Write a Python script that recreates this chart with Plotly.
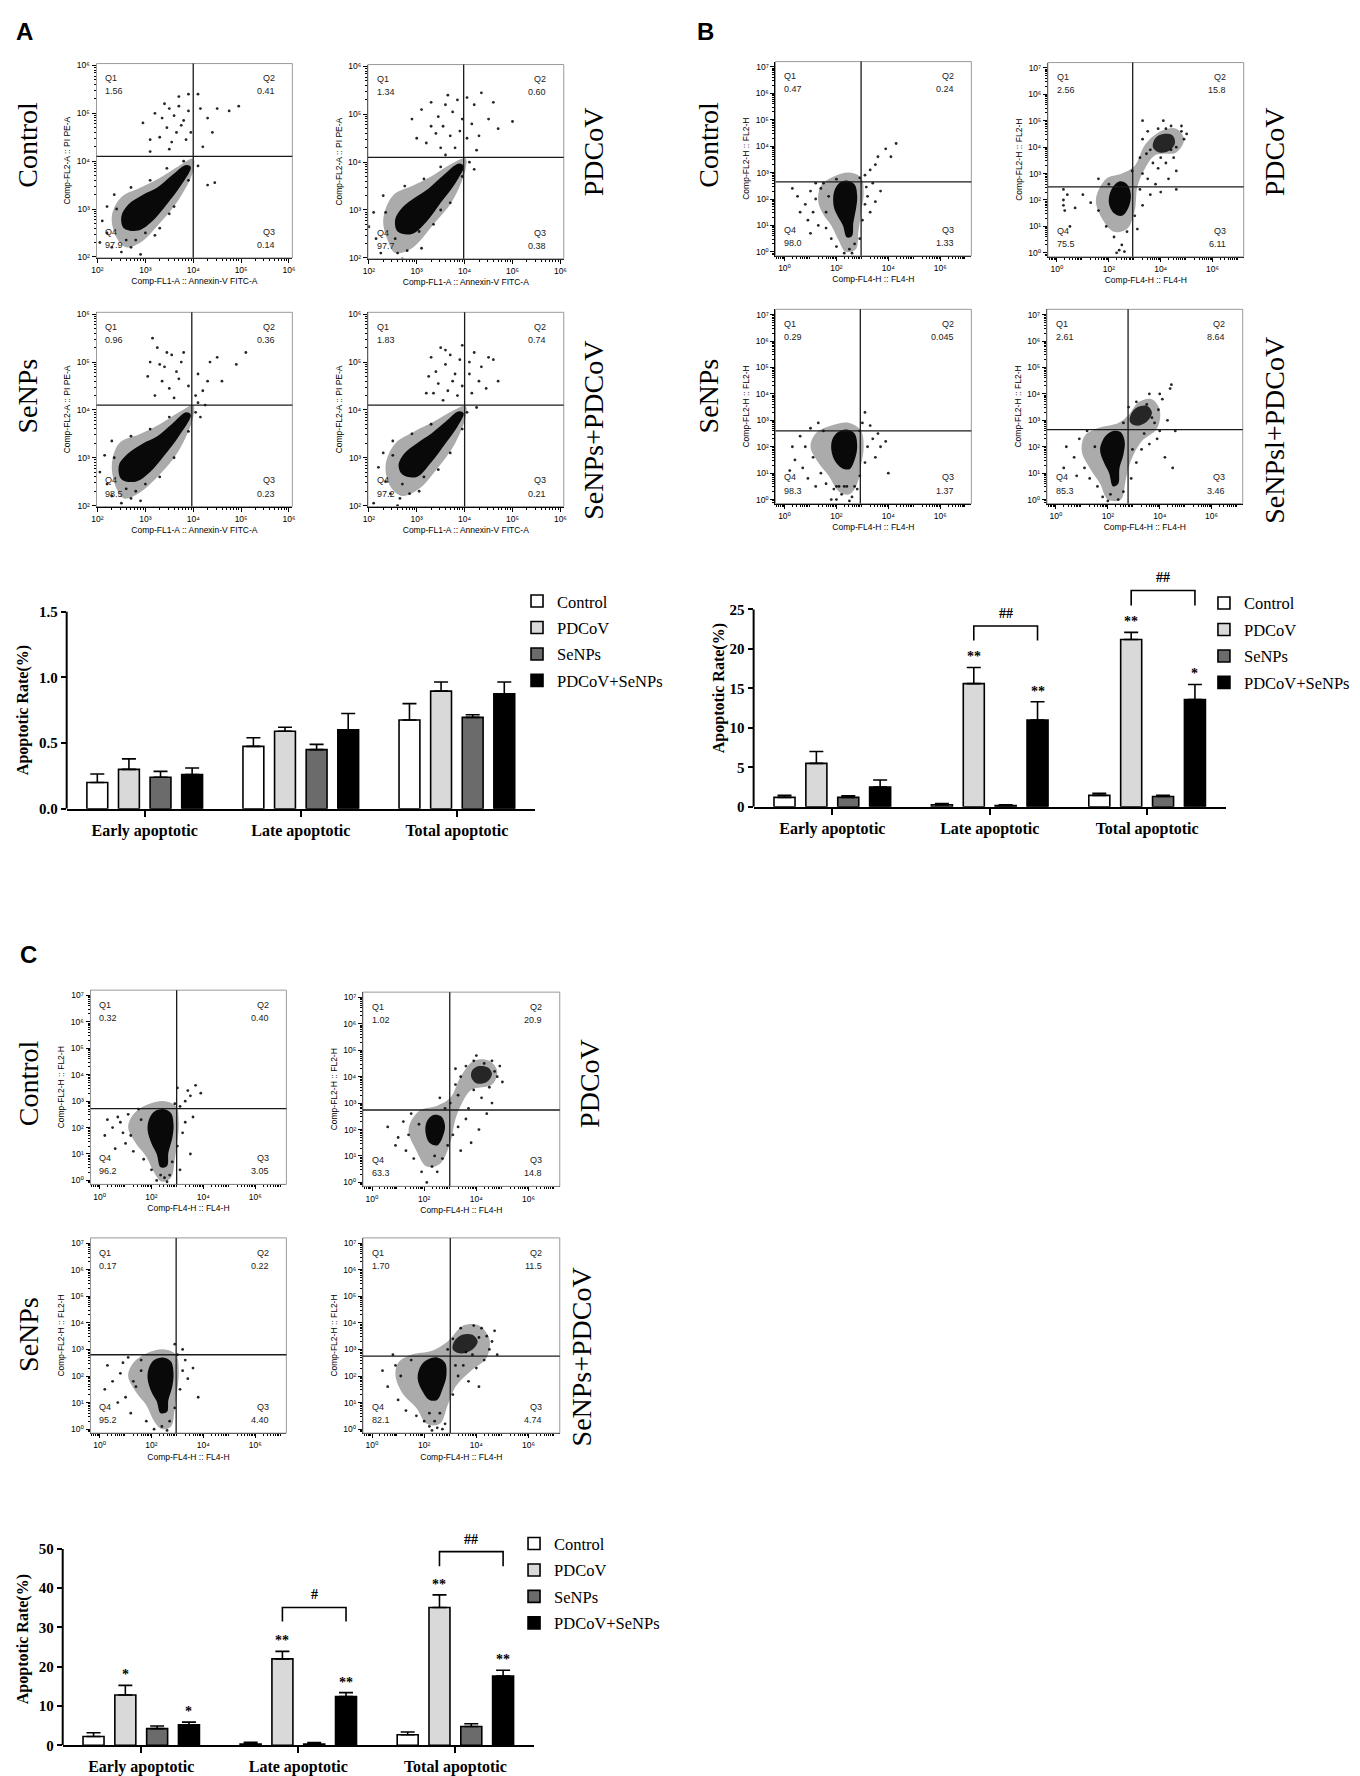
import numpy as np
import plotly.graph_objects as go

W, H = 1360, 1776
SERIF = "Liberation Serif"
SANS = "Liberation Sans, DejaVu Sans"

groups = ["Control", "PDCoV", "SeNPs", "PDCoV+SeNPs"]
stages = ["Early apoptotic", "Late apoptotic", "Total apoptotic"]
fills = ["white", "#d9d9d9", "#6b6b6b", "black"]

# bar heights (%) and top of the error bar, one row per group (early, late, total)
a_mean = [[0.20, 0.475, 0.675], [0.30, 0.59, 0.895], [0.24, 0.45, 0.695], [0.26, 0.60, 0.875]]
a_top = [[0.265, 0.54, 0.80], [0.38, 0.62, 0.965], [0.285, 0.49, 0.715], [0.31, 0.725, 0.965]]
b_mean = [[1.2, 0.25, 1.45], [5.5, 15.6, 21.2], [1.2, 0.15, 1.3], [2.5, 11.0, 13.6]]
b_top = [[1.45, 0.4, 1.7], [7.0, 17.65, 22.1], [1.4, 0.25, 1.45], [3.4, 13.3, 15.5]]
c_mean = [[2.25, 0.3, 2.7], [12.8, 22.0, 35.1], [4.25, 0.3, 4.8], [5.2, 12.4, 17.6]]
c_top = [[3.2, 0.75, 3.4], [15.25, 23.9, 38.3], [4.9, 0.7, 5.5], [5.9, 13.4, 19.1]]

# significance marks: (text, group index, stage index)
b_marks = [("**", 1, 1), ("**", 3, 1), ("**", 1, 2), ("*", 3, 2)]
c_marks = [("*", 1, 0), ("*", 3, 0), ("**", 1, 1), ("**", 3, 1), ("**", 1, 2), ("**", 3, 2)]
# PDCoV vs PDCoV+SeNPs brackets: (stage, top, leg end, label)
b_brackets = [(1, 22.9, 21.05, "##"), (2, 27.4, 25.5, "##")]
c_brackets = [(1, 35.1, 31.5, "#"), (2, 49.3, 45.6, "##")]

# quadrant percentages Q1, Q2, Q3, Q4
a_quads = [["1.56", "0.41", "0.14", "97.9"], ["1.34", "0.60", "0.38", "97.7"],
           ["0.96", "0.36", "0.23", "98.5"], ["1.83", "0.74", "0.21", "97.2"]]
b_quads = [["0.47", "0.24", "1.33", "98.0"], ["2.56", "15.8", "6.11", "75.5"],
           ["0.29", "0.045", "1.37", "98.3"], ["2.61", "8.64", "3.46", "85.3"]]
c_quads = [["0.32", "0.40", "3.05", "96.2"], ["1.02", "20.9", "14.8", "63.3"],
           ["0.17", "0.22", "4.40", "95.2"], ["1.70", "11.5", "4.74", "82.1"]]

# gate positions (log10 x, log10 y)
a_gates = [(4.0, 4.1), (3.98, 4.1), (3.97, 4.1), (4.0, 4.1)]
b_gates = [(2.95, 2.65), (2.92, 2.5), (2.92, 2.6), (2.78, 2.65)]
c_gates = [(2.97, 2.72), (2.98, 2.74), (2.95, 2.8), (3.0, 2.75)]

# event clouds in log10 units: outline of the sparse zone, outline of the dense core(s), single events
a1_mid = [(2.4, 2.4), (2.6, 2.2), (2.9, 2.3), (3.3, 2.7), (3.7, 3.2), (4.0, 3.8), (4.0, 4.05), (3.7, 3.9),
          (3.3, 3.65), (2.9, 3.45), (2.5, 3.25), (2.3, 2.85)]
a1_core = [(2.55, 2.6), (2.85, 2.55), (3.15, 2.75), (3.45, 3.1), (3.75, 3.5), (3.95, 3.88), (3.85, 3.92),
           (3.55, 3.7), (3.25, 3.45), (2.95, 3.3), (2.65, 3.1), (2.5, 2.85)]
a1_dots = [(3.2, 5.0), (3.35, 4.9), (3.5, 5.1), (3.6, 4.95), (3.7, 5.15), (3.8, 4.85), (3.9, 5.05), (3.45, 4.7),
           (3.65, 4.6), (3.75, 4.75), (3.3, 4.5), (3.55, 4.4), (3.85, 4.45), (3.95, 4.6), (3.4, 5.2), (3.1, 4.45),
           (2.95, 4.8), (3.7, 5.35), (3.9, 5.4), (4.1, 5.4), (4.15, 5.1), (4.3, 4.9), (4.5, 5.1), (4.4, 4.6),
           (4.2, 4.3), (4.1, 3.9), (4.3, 3.5), (4.45, 3.55), (4.95, 5.15), (4.75, 5.05), (3.1, 4.2), (3.5, 4.25),
           (2.1, 2.75), (2.2, 2.5), (2.3, 2.2), (2.5, 2.1), (2.7, 2.2), (2.9, 2.05), (2.4, 3.0), (2.6, 2.35),
           (3.0, 2.5), (3.3, 2.6), (3.6, 3.05), (3.9, 3.6), (2.2, 3.05), (2.05, 2.3), (2.8, 2.35), (3.5, 2.9),
           (2.35, 3.3), (2.7, 3.45), (3.1, 3.6), (3.45, 3.85), (3.8, 4.0), (2.45, 1.95), (3.2, 2.45)]

a2_mid = [(2.4, 2.35), (2.55, 2.1), (2.9, 2.2), (3.35, 2.7), (3.75, 3.2), (4.02, 3.85), (4.02, 4.08), (3.7, 3.95),
          (3.3, 3.7), (2.9, 3.5), (2.5, 3.3), (2.3, 2.8)]
a2_core = [(2.6, 2.55), (2.9, 2.5), (3.2, 2.75), (3.5, 3.15), (3.8, 3.55), (3.98, 3.92), (3.88, 3.97),
           (3.55, 3.72), (3.25, 3.45), (2.95, 3.25), (2.7, 3.05), (2.55, 2.8)]
a2_dots = [(3.1, 5.1), (3.3, 5.25), (3.45, 4.95), (3.6, 5.2), (3.75, 5.05), (3.85, 5.3), (3.95, 4.9), (3.4, 4.6),
           (3.55, 4.75), (3.7, 4.55), (3.2, 4.4), (3.5, 4.3), (3.8, 4.3), (3.9, 4.65), (2.9, 4.9), (3.0, 4.5),
           (3.65, 5.4), (4.05, 5.35), (4.2, 5.2), (4.35, 5.45), (4.6, 5.25), (4.15, 4.8), (4.3, 4.55), (4.5, 4.9),
           (4.7, 4.7), (4.25, 4.25), (4.05, 4.5), (4.1, 4.0), (4.2, 3.85), (5.0, 4.85), (3.3, 4.75), (3.6, 4.15),
           (2.0, 2.65), (2.15, 2.4), (2.25, 2.1), (2.4, 1.95), (2.6, 2.1), (2.8, 2.15), (2.35, 2.95), (2.55, 2.4),
           (3.05, 2.55), (3.35, 2.7), (3.7, 3.15), (3.95, 3.7), (2.1, 2.95), (2.7, 1.98), (3.1, 2.2), (3.5, 3.0),
           (2.3, 3.3), (2.75, 3.5), (3.15, 3.65), (3.5, 3.9), (2.5, 1.8), (2.9, 1.9)]

a3_mid = [(2.4, 2.35), (2.55, 2.15), (2.85, 2.25), (3.3, 2.65), (3.7, 3.15), (4.0, 3.85), (4.0, 4.1), (3.7, 3.95),
          (3.3, 3.7), (2.9, 3.5), (2.45, 3.3), (2.3, 2.85)]
a3_core = [(2.5, 2.55), (2.8, 2.5), (3.1, 2.7), (3.4, 3.05), (3.7, 3.45), (3.95, 3.9), (3.85, 3.95),
           (3.55, 3.7), (3.25, 3.45), (2.95, 3.3), (2.65, 3.1), (2.45, 2.85)]
a3_dots = [(3.1, 5.0), (3.25, 5.3), (3.4, 4.9), (3.55, 5.15), (3.65, 4.8), (3.8, 5.2), (3.35, 4.6), (3.5, 4.45),
           (3.7, 4.65), (3.2, 4.3), (3.6, 4.25), (3.9, 4.5), (3.15, 5.5), (3.45, 5.2), (3.75, 5.0), (3.3, 4.95),
           (3.05, 4.7), (4.05, 4.3), (4.1, 4.15), (4.2, 4.4), (4.3, 4.6), (4.1, 4.75), (4.35, 5.0), (4.5, 5.1),
           (4.9, 4.95), (5.1, 5.2), (4.6, 4.6), (4.25, 4.1), (4.15, 3.85), (4.05, 3.95),
           (2.05, 2.7), (2.2, 2.45), (2.3, 2.2), (2.5, 2.05), (2.7, 2.15), (2.9, 2.1), (2.35, 3.0), (2.6, 2.35),
           (3.0, 2.45), (3.3, 2.6), (3.6, 3.0), (3.9, 3.55), (2.15, 3.05), (2.8, 2.3), (2.3, 3.35), (2.7, 3.45),
           (3.1, 3.6), (3.5, 3.85), (2.4, 1.95)]

a4_mid = [(2.45, 2.4), (2.7, 2.2), (3.05, 2.35), (3.45, 2.8), (3.8, 3.3), (4.02, 3.85), (4.02, 4.08),
          (3.75, 3.98), (3.35, 3.75), (2.95, 3.55), (2.55, 3.3), (2.35, 2.85)]
a4_core = [(2.7, 2.65), (3.0, 2.6), (3.3, 2.9), (3.6, 3.3), (3.85, 3.65), (3.98, 3.93), (3.88, 3.97),
           (3.6, 3.75), (3.3, 3.5), (3.0, 3.3), (2.75, 3.1), (2.62, 2.85)]
a4_dots = [(3.3, 5.1), (3.4, 4.8), (3.5, 5.3), (3.6, 4.95), (3.7, 5.15), (3.8, 4.75), (3.9, 5.05), (3.45, 4.55),
           (3.65, 4.4), (3.75, 4.6), (3.35, 4.35), (3.55, 4.2), (3.85, 4.3), (3.95, 4.5), (3.25, 4.7), (3.6, 5.25),
           (3.95, 5.35), (4.1, 5.0), (4.2, 5.2), (4.35, 4.9), (4.5, 5.1), (4.3, 4.6), (4.15, 4.35), (4.45, 4.45),
           (4.6, 5.05), (4.1, 4.75), (4.05, 3.95), (4.25, 4.05), (4.7, 4.6), (3.2, 4.35),
           (2.2, 2.8), (2.35, 2.5), (2.45, 2.25), (2.65, 2.15), (2.85, 2.25), (3.05, 2.3), (2.5, 3.05), (2.7, 2.45),
           (3.15, 2.6), (3.45, 2.75), (3.7, 3.1), (3.95, 3.6), (2.3, 3.1), (2.1, 2.05), (2.5, 3.35), (2.9, 3.5),
           (3.3, 3.7), (2.6, 2.0)]

b1_mid = [(1.3, 1.9), (1.5, 1.4), (1.8, 1.0), (2.1, 0.4), (2.35, 0.0), (2.75, 0.1), (2.85, 0.8), (2.95, 1.5),
          (3.05, 2.2), (2.95, 2.8), (2.5, 3.0), (1.9, 2.85), (1.4, 2.5)]
b1_core = [(1.9, 1.7), (2.05, 1.35), (2.25, 1.0), (2.4, 0.55), (2.6, 0.6), (2.65, 1.1), (2.75, 1.6), (2.8, 2.1),
           (2.7, 2.55), (2.4, 2.7), (2.1, 2.6), (1.9, 2.25)]
b1_dots = [(0.5, 2.1), (0.8, 1.8), (1.0, 2.3), (1.1, 1.5), (1.2, 2.0), (0.9, 1.2), (1.3, 1.0), (1.4, 2.4),
           (0.6, 1.5), (1.6, 0.9), (1.8, 0.5), (2.0, 0.2), (2.3, -0.05), (2.5, 0.1), (2.7, 0.3), (2.6, -0.05),
           (3.1, 1.8), (3.2, 2.1), (3.0, 1.2), (3.3, 1.5), (3.5, 1.9), (3.1, 2.9), (3.3, 3.1), (3.5, 3.3),
           (3.6, 3.6), (3.9, 3.9), (4.1, 3.6), (4.3, 4.1), (3.4, 2.6), (1.5, 2.6), (2.9, 2.8), (0.3, 2.4),
           (1.0, 0.7), (3.7, 2.3), (2.0, 2.75), (1.2, 2.6), (1.7, 2.1), (1.6, 1.5), (2.9, 0.5), (3.15, 2.45)]

b2_mid = [(1.5, 2.0), (1.8, 1.2), (2.2, 0.8), (2.7, 0.9), (3.0, 1.6), (3.1, 2.5), (3.4, 3.2), (3.8, 3.7),
          (4.6, 3.8), (4.9, 4.3), (4.6, 4.7), (4.0, 4.6), (3.4, 4.1), (3.0, 3.3), (2.5, 3.0), (1.9, 2.8)]
b2_core = [(2.0, 1.9), (2.2, 1.5), (2.5, 1.4), (2.75, 1.7), (2.85, 2.2), (2.7, 2.6), (2.4, 2.7), (2.1, 2.4)]
b2_core2 = [(3.7, 4.0), (3.95, 3.8), (4.3, 3.85), (4.55, 4.15), (4.45, 4.45), (4.1, 4.5), (3.8, 4.35)]
b2_dots = [(3.3, 4.3), (3.5, 4.6), (3.6, 3.9), (4.6, 4.0), (4.8, 4.6), (4.9, 4.3), (5.0, 4.5), (4.2, 4.7),
           (4.4, 4.8), (3.9, 4.7), (3.2, 3.6), (3.3, 3.0), (3.5, 2.8), (3.9, 3.2), (4.2, 3.4), (4.5, 3.6),
           (4.6, 3.1), (4.3, 2.8), (3.8, 2.6), (4.0, 2.3), (3.6, 2.2), (3.2, 2.4), (3.0, 1.4), (3.3, 1.8),
           (3.1, 0.9), (2.7, 0.8), (2.5, 0.3), (2.4, 0.1), (2.2, 0.6), (1.9, 1.0), (1.6, 1.6), (1.3, 1.9),
           (1.0, 2.2), (0.7, 1.7), (0.4, 2.2), (0.5, 1.0), (0.3, 1.6), (1.6, 2.8), (2.0, 2.6), (4.8, 4.8),
           (4.1, 5.0), (3.3, 5.0), (4.6, 2.4), (3.7, 3.4), (4.0, 3.6), (4.4, 3.9), (3.45, 3.75), (2.9, 3.1),
           (0.25, 2.0), (0.25, 1.8), (0.25, 2.4), (2.3, 0.0), (2.6, 0.05)]

b3_mid = [(1.0, 2.0), (1.3, 1.4), (1.7, 0.9), (2.1, 0.3), (2.5, 0.2), (2.8, 0.6), (2.95, 1.3), (3.05, 2.0),
          (2.95, 2.6), (2.5, 2.9), (1.8, 2.8), (1.2, 2.5)]
b3_core = [(1.8, 1.9), (1.95, 1.45), (2.2, 1.2), (2.5, 1.15), (2.7, 1.5), (2.8, 2.0), (2.7, 2.5), (2.4, 2.65),
           (2.05, 2.55), (1.85, 2.3)]
b3_dots = [(0.3, 2.0), (0.6, 2.4), (0.4, 1.5), (0.7, 1.2), (0.9, 0.8), (1.2, 0.5), (1.4, 1.0), (1.6, 0.6),
           (1.9, 0.4), (2.0, 0.0), (2.2, 0.2), (2.4, 0.5), (2.6, 0.1), (2.8, 0.4), (2.9, 0.9), (3.1, 1.4),
           (3.2, 2.0), (3.4, 2.3), (3.7, 2.0), (3.9, 2.2), (3.5, 1.6), (3.3, 2.8), (3.0, 2.9), (4.0, 1.0),
           (3.1, 3.3), (2.9, 2.6), (1.0, 2.7), (1.5, 2.6), (3.6, 2.5), (2.1, 0.5), (2.5, -0.05), (1.8, 0.0),
           (0.2, 1.1), (1.3, 2.9), (0.8, 2.0), (1.1, 1.6), (2.3, 0.5), (2.0, 0.5), (2.7, 0.5)]

b4_mid = [(1.0, 1.8), (1.3, 1.2), (1.7, 0.6), (2.0, 0.0), (2.5, 0.0), (2.7, 0.8), (2.9, 1.5), (3.3, 2.2),
          (3.9, 2.7), (4.0, 3.4), (3.7, 3.8), (3.2, 3.7), (2.8, 3.2), (2.4, 2.9), (1.6, 2.7), (1.1, 2.4)]
b4_core = [(1.7, 1.9), (1.85, 1.4), (2.05, 1.0), (2.2, 0.5), (2.4, 0.6), (2.45, 1.2), (2.6, 1.7), (2.65, 2.2),
           (2.5, 2.55), (2.2, 2.6), (1.9, 2.4)]
b4_core2 = [(2.85, 2.95), (3.1, 2.8), (3.5, 2.95), (3.7, 3.3), (3.5, 3.55), (3.15, 3.5), (2.9, 3.25)]
b4_dots = [(0.4, 2.0), (0.7, 1.6), (0.9, 2.3), (1.1, 1.2), (1.3, 0.8), (0.8, 0.9), (1.6, 0.5), (1.8, 0.1),
           (2.0, -0.05), (2.4, 0.0), (2.6, 0.3), (2.9, 0.8), (3.1, 1.4), (3.3, 1.9), (3.6, 2.1), (3.9, 2.3),
           (4.2, 1.6), (4.5, 1.2), (4.0, 2.6), (4.3, 3.0), (4.1, 3.8), (4.4, 4.2), (4.0, 4.0), (3.6, 4.0),
           (3.1, 3.7), (2.8, 3.5), (2.6, 2.9), (3.8, 2.9), (4.6, 2.6), (1.2, 2.6), (3.4, 2.5), (3.7, 3.1),
           (3.95, 3.4), (0.3, 1.2), (2.95, 1.9), (3.5, 3.6), (4.45, 4.35), (1.5, 2.0), (2.1, 0.2)]

c1_mid = [(1.1, 2.0), (1.4, 1.4), (1.8, 0.9), (2.1, 0.3), (2.4, -0.05), (2.75, 0.1), (2.9, 0.8), (3.0, 1.5),
          (3.05, 2.2), (2.95, 2.8), (2.5, 3.0), (1.8, 2.85), (1.3, 2.5)]
c1_core = [(1.85, 1.9), (2.0, 1.4), (2.2, 1.0), (2.35, 0.5), (2.6, 0.55), (2.65, 1.05), (2.8, 1.6), (2.85, 2.1),
           (2.75, 2.55), (2.45, 2.7), (2.1, 2.6), (1.9, 2.3)]
c1_dots = [(0.3, 2.3), (0.5, 2.0), (0.7, 2.4), (0.9, 1.8), (1.1, 2.5), (1.0, 1.4), (1.3, 1.1), (1.5, 2.7),
           (0.6, 1.2), (1.7, 0.8), (2.0, 0.4), (2.2, 0.0), (2.5, 0.1), (2.7, 0.2), (2.8, 0.7), (3.0, 1.3),
           (3.2, 1.8), (3.3, 2.2), (3.5, 1.0), (3.6, 2.4), (3.1, 2.8), (3.3, 3.0), (3.5, 3.2), (3.7, 3.6),
           (3.9, 3.3), (3.0, 3.5), (3.4, 3.4), (2.9, 2.9), (0.2, 1.7), (1.2, 1.7), (2.6, -0.05), (3.1, 0.4),
           (0.8, 2.2), (1.6, 2.3), (2.35, 0.2)]

c2_mid = [(1.4, 2.0), (1.7, 1.2), (2.1, 0.6), (2.6, 0.7), (3.0, 1.5), (3.2, 2.4), (3.5, 3.1), (3.8, 3.5),
          (4.6, 3.7), (4.8, 4.2), (4.5, 4.6), (3.9, 4.6), (3.4, 4.0), (3.0, 3.2), (2.5, 2.9), (1.8, 2.7)]
c2_core = [(2.05, 1.9), (2.2, 1.5), (2.5, 1.4), (2.7, 1.7), (2.8, 2.15), (2.65, 2.5), (2.35, 2.55), (2.1, 2.3)]
c2_core2 = [(3.8, 4.0), (4.0, 3.75), (4.4, 3.8), (4.6, 4.1), (4.45, 4.35), (4.1, 4.4), (3.85, 4.25)]
c2_dots = [(0.6, 2.1), (1.0, 1.7), (1.2, 2.3), (1.3, 1.2), (1.5, 2.6), (1.6, 0.9), (1.9, 0.4), (2.1, 0.0),
           (2.5, 0.4), (2.7, 0.9), (2.9, 1.4), (3.1, 1.8), (3.3, 2.1), (3.6, 2.4), (3.8, 1.5), (4.1, 2.0),
           (4.4, 2.6), (4.6, 3.0), (4.5, 3.6), (4.8, 4.0), (4.9, 4.4), (4.6, 4.6), (4.3, 4.5), (3.9, 4.6),
           (3.6, 4.4), (3.4, 4.0), (3.2, 3.7), (3.3, 3.3), (3.0, 3.0), (2.8, 2.8), (3.7, 2.8), (4.2, 3.2),
           (3.9, 3.5), (3.2, 4.3), (2.6, 3.2), (5.0, 3.8), (1.4, 1.8), (0.9, 1.4), (2.3, 0.6), (3.4, 1.2),
           (4.7, 4.2), (4.0, 4.8), (1.8, 2.2), (2.4, 1.0)]

c3_mid = [(1.1, 2.0), (1.4, 1.4), (1.8, 0.9), (2.1, 0.3), (2.4, 0.0), (2.75, 0.1), (2.9, 0.8), (3.0, 1.5),
          (3.05, 2.2), (2.95, 2.8), (2.5, 3.0), (1.8, 2.85), (1.3, 2.5)]
c3_core = [(1.85, 1.9), (2.0, 1.4), (2.2, 1.05), (2.35, 0.6), (2.6, 0.65), (2.65, 1.1), (2.8, 1.6), (2.85, 2.1),
           (2.75, 2.55), (2.45, 2.7), (2.1, 2.6), (1.9, 2.3)]
c3_dots = [(0.3, 2.4), (0.5, 1.8), (0.8, 2.1), (1.0, 1.2), (1.2, 0.6), (1.4, 1.6), (1.6, 2.6), (1.8, 0.3),
           (2.1, 0.0), (2.4, 0.1), (2.7, 0.3), (2.9, 0.8), (3.1, 1.5), (3.2, 2.2), (3.4, 1.9), (3.6, 2.3),
           (3.0, 2.8), (3.2, 3.0), (2.9, 3.2), (3.8, 1.2), (1.1, 2.7), (0.7, 1.0), (0.2, 1.5), (1.3, 1.8),
           (2.6, -0.05), (3.3, 2.6), (0.9, 2.5), (1.6, 2.2)]

c4_mid = [(0.9, 2.0), (1.2, 1.3), (1.7, 0.8), (2.1, 0.2), (2.6, 0.2), (2.9, 0.9), (3.2, 1.6), (3.8, 2.2),
          (4.4, 2.7), (4.5, 3.4), (4.1, 3.9), (3.5, 3.9), (2.9, 3.3), (2.3, 2.95), (1.5, 2.8), (1.0, 2.5)]
c4_core = [(1.75, 1.9), (1.95, 1.4), (2.2, 1.1), (2.5, 1.1), (2.7, 1.5), (2.85, 2.0), (2.8, 2.5), (2.5, 2.7),
           (2.1, 2.6), (1.85, 2.35)]
c4_core2 = [(3.1, 3.0), (3.4, 2.85), (3.85, 3.0), (4.05, 3.3), (3.85, 3.55), (3.45, 3.55), (3.15, 3.3)]
c4_dots = [(0.4, 2.2), (0.6, 1.6), (0.9, 2.4), (1.0, 1.1), (1.3, 0.7), (1.5, 2.6), (1.7, 0.5), (2.0, 0.3),
           (2.2, 0.6), (2.4, 0.3), (2.6, 0.6), (2.8, 0.2), (3.1, 1.3), (3.3, 2.0), (3.5, 2.4), (3.7, 1.8),
           (4.0, 2.3), (4.3, 2.6), (4.5, 3.0), (4.4, 3.5), (4.6, 3.3), (4.2, 3.8), (3.9, 3.9), (3.4, 3.8),
           (3.1, 3.4), (2.9, 3.0), (4.8, 2.8), (3.2, 2.4), (4.1, 1.6), (1.1, 2.0), (0.8, 2.8), (4.7, 3.7),
           (3.85, 2.8), (4.1, 3.45), (3.6, 2.9), (2.3, -0.05), (2.7, 0.0), (2.2, 0.1), (2.5, 0.05)]

SUP = str.maketrans("0123456789", "⁰¹²³⁴⁵⁶⁷⁸⁹")

fig = go.Figure()
layout = dict(width=W, height=H, margin=dict(l=0, r=0, t=0, b=0),
              paper_bgcolor="white", plot_bgcolor="white",
              barmode="group", bargap=0.19, bargroupgap=0.34,
              font=dict(family=SANS, color="black"))
shapes, annots = [], []


def dom_x(x0, x1):
    return [x0 / W, x1 / W]


def dom_y(y0, y1):
    return [1 - y1 / H, 1 - y0 / H]


def minor_vals(lo, hi):
    vals = []
    for d in range(int(np.floor(lo)) - 1, int(np.ceil(hi)) + 1):
        for k in range(2, 10):
            v = d + np.log10(k)
            if lo < v < hi:
                vals.append(v)
    return vals


def add_blob(pts, color, xr, yr):
    ring = list(pts) + [pts[0]]
    fig.add_trace(go.Scatter(
        x=[p[0] for p in ring], y=[p[1] for p in ring], mode="lines", fill="toself",
        fillcolor=color, line=dict(width=0, shape="spline", smoothing=1.0),
        xaxis=xr, yaxis=yr, showlegend=False, hoverinfo="skip"))


def add_dot_plot(n, box, log_panel, xtitle, ytitle, gate, quads, mids, cores, dots):
    ax = "" if n == 1 else str(n)
    xr, yr = f"x{ax}", f"y{ax}"
    if log_panel:
        xrange, yrange = [1.98, 6.07], [1.98, 6.04]
        xt, yt = [2, 3, 4, 5, 6], [2, 3, 4, 5, 6]
    else:
        xrange, yrange = [-0.35, 7.2], [-0.15, 7.2]
        xt, yt = [0, 2, 4, 6], [0, 1, 2, 3, 4, 5, 6, 7]
    for poly in mids:
        add_blob(poly, "rgba(0,0,0,0.33)", xr, yr)
    for poly, shade in cores:
        add_blob(poly, shade, xr, yr)
    fig.add_trace(go.Scatter(
        x=[p[0] for p in dots], y=[p[1] for p in dots], mode="markers",
        marker=dict(size=2.8, color="black", opacity=0.85, line=dict(width=0)),
        xaxis=xr, yaxis=yr, showlegend=False, hoverinfo="skip"))
    common = dict(showline=True, linecolor="black", linewidth=1, ticks="outside",
                  ticklen=4, tickwidth=1, tickcolor="black", showgrid=False, zeroline=False,
                  tickfont=dict(family=SANS, size=8.5))
    layout[f"xaxis{ax}"] = dict(
        domain=dom_x(box[0], box[1]), range=xrange, anchor=yr,
        tickvals=xt, ticktext=["10" + str(v).translate(SUP) for v in xt],
        minor=dict(tickvals=minor_vals(*xrange), ticks="outside", ticklen=2, tickcolor="black"),
        title=dict(text=xtitle, font=dict(family=SANS, size=8.5), standoff=4), **common)
    layout[f"yaxis{ax}"] = dict(
        domain=dom_y(box[2], box[3]), range=yrange, anchor=xr,
        tickvals=yt, ticktext=["10" + str(v).translate(SUP) for v in yt],
        minor=dict(tickvals=minor_vals(*yrange), ticks="outside", ticklen=2, tickcolor="black"),
        title=dict(text=ytitle, font=dict(family=SANS, size=8.5), standoff=4), **common)
    shapes.append(dict(type="rect", xref=f"{xr} domain", yref=f"{yr} domain", x0=0, x1=1, y0=0, y1=1,
                       line=dict(color="#9a9a9a", width=1)))
    shapes.append(dict(type="line", xref=xr, yref=f"{yr} domain", x0=gate[0], x1=gate[0], y0=0, y1=1,
                       line=dict(color="#1a1a1a", width=1.3)))
    shapes.append(dict(type="line", xref=f"{xr} domain", yref=yr, x0=0, x1=1, y0=gate[1], y1=gate[1],
                       line=dict(color="#1a1a1a", width=1.3)))
    qfont = dict(family=SANS, size=9, color="#222")
    spots = [("Q1", quads[0], 0.035, 0.925, "left"), ("Q2", quads[1], 0.92, 0.925, "right"),
             ("Q3", quads[2], 0.92, 0.135, "right"), ("Q4", quads[3], 0.035, 0.135, "left")]
    for lab, val, qx, qy, anc in spots:
        annots.append(dict(text=lab, xref=f"{xr} domain", yref=f"{yr} domain", x=qx, y=qy,
                           xanchor=anc, yanchor="middle", showarrow=False, font=qfont))
        annots.append(dict(text=val, xref=f"{xr} domain", yref=f"{yr} domain", x=qx, y=qy - 0.068,
                           xanchor=anc, yanchor="middle", showarrow=False, font=qfont))


def add_bar_chart(n, box, means, tops, yrange, yticks, ymax, fmt, legend_name, legend_xy,
                  title_x, marks, brackets):
    ax = str(n)
    xr, yr = f"x{ax}", f"y{ax}"
    slot = (1 - layout["bargap"]) / 4
    for gi, g in enumerate(groups):
        fig.add_trace(go.Bar(
            x=[0, 1, 2], y=means[gi], name=g, legend=legend_name, legendgroup=f"{legend_name}{gi}",
            marker=dict(color=fills[gi], line=dict(color="black", width=1.6)),
            error_y=dict(type="data", symmetric=False, array=[t - m for t, m in zip(tops[gi], means[gi])],
                         arrayminus=[0, 0, 0], color="black", thickness=1.6, width=7),
            xaxis=xr, yaxis=yr, hoverinfo="skip"))
    layout[f"xaxis{ax}"] = dict(
        domain=dom_x(box[0], box[1]), range=[-0.5, 2.5], anchor=yr,
        showline=True, linecolor="black", linewidth=2, ticks="outside", ticklen=6, tickwidth=2,
        tickcolor="black", tickvals=[0, 1, 2], ticktext=[f"<b>{s}</b>" for s in stages],
        tickfont=dict(family=SERIF, size=16), showgrid=False, zeroline=False)
    layout[f"yaxis{ax}"] = dict(
        domain=dom_y(box[2], box[3]), range=yrange, anchor=xr,
        showline=False, ticks="outside", ticklen=5, tickwidth=2, tickcolor="black",
        tickvals=yticks, ticktext=[f"<b>{v:{fmt}}</b>" for v in yticks],
        tickfont=dict(family=SERIF, size=15), showgrid=False, zeroline=False)
    shapes.append(dict(type="line", xref=f"{xr} domain", yref=yr, x0=0, x1=0, y0=0, y1=ymax,
                       line=dict(color="black", width=2)))
    layout[legend_name] = dict(x=legend_xy[0] / W, y=1 - legend_xy[1] / H, xanchor="left", yanchor="top",
                               font=dict(family=SERIF, size=16.5), tracegroupgap=2,
                               bgcolor="rgba(0,0,0,0)")
    annots.append(dict(text="<b>Apoptotic Rate(%)</b>", xref="paper", yref="paper",
                       x=title_x / W, y=1 - (box[2] + box[3]) / 2 / H, textangle=-90,
                       xanchor="center", yanchor="middle",
                       showarrow=False, font=dict(family=SERIF, size=16)))
    for txt, gi, si in marks:
        annots.append(dict(text=f"<b>{txt}</b>", xref=xr, yref=yr, x=si + (gi - 1.5) * slot,
                           y=tops[gi][si], xanchor="center", yanchor="bottom", yshift=1, showarrow=False,
                           font=dict(family=SERIF, size=14)))
    for si, top, leg, txt in brackets:
        xa, xb = si + (1 - 1.5) * slot, si + (3 - 1.5) * slot
        shapes.append(dict(type="path", xref=xr, yref=yr,
                           path=f"M {xa},{leg} L {xa},{top} L {xb},{top} L {xb},{leg}",
                           line=dict(color="black", width=1.6)))
        annots.append(dict(text=f"<b>{txt}</b>", xref=xr, yref=yr, x=(xa + xb) / 2, y=top,
                           xanchor="center", yanchor="bottom", yshift=3, showarrow=False,
                           font=dict(family=SERIF, size=14)))


a_titles = ("Comp-FL1-A :: Annexin-V FITC-A", "Comp-FL2-A :: PI PE-A")
h_titles = ("Comp-FL4-H :: FL4-H", "Comp-FL2-H :: FL2-H")

a_boxes = [(84, 281, 48, 244), (357, 554, 49, 245), (84, 281, 299, 495), (357, 554, 299, 495)]
b_boxes = [(767, 964, 46, 242), (1041, 1238, 47, 243), (767, 964, 296, 492), (1040, 1237, 296, 492)]
c_boxes = [(78, 275, 983, 1179), (352, 550, 985, 1181), (78, 275, 1233, 1430), (352, 550, 1233, 1430)]

DENSE, SEMI = "rgba(0,0,0,0.95)", "rgba(0,0,0,0.78)"
a_clouds = [([a1_mid], [(a1_core, DENSE)], a1_dots), ([a2_mid], [(a2_core, DENSE)], a2_dots),
            ([a3_mid], [(a3_core, DENSE)], a3_dots), ([a4_mid], [(a4_core, DENSE)], a4_dots)]
b_clouds = [([b1_mid], [(b1_core, DENSE)], b1_dots),
            ([b2_mid], [(b2_core, DENSE), (b2_core2, SEMI)], b2_dots),
            ([b3_mid], [(b3_core, DENSE)], b3_dots),
            ([b4_mid], [(b4_core, DENSE), (b4_core2, SEMI)], b4_dots)]
c_clouds = [([c1_mid], [(c1_core, DENSE)], c1_dots),
            ([c2_mid], [(c2_core, DENSE), (c2_core2, SEMI)], c2_dots),
            ([c3_mid], [(c3_core, DENSE)], c3_dots),
            ([c4_mid], [(c4_core, DENSE), (c4_core2, SEMI)], c4_dots)]

n = 1
for boxes, is_a, titles, gates, quads, clouds in [
        (a_boxes, True, a_titles, a_gates, a_quads, a_clouds),
        (b_boxes, False, h_titles, b_gates, b_quads, b_clouds),
        (c_boxes, False, h_titles, c_gates, c_quads, c_clouds)]:
    for i in range(4):
        add_dot_plot(n, boxes[i], is_a, titles[0], titles[1], gates[i], quads[i], *clouds[i])
        n += 1

add_bar_chart(13, (54, 525, 601, 800), a_mean, a_top, [0, 1.5], [0, 0.5, 1.0, 1.5], 1.5, ".1f",
              "legend", (507, 573), 10, [], [])
add_bar_chart(14, (745, 1220, 559, 798), b_mean, b_top, [0, 30], [0, 5, 10, 15, 20, 25], 25, "d",
              "legend2", (1198, 575), 711, b_marks, b_brackets)
add_bar_chart(15, (50, 524, 1531, 1745), c_mean, c_top, [0, 54], [0, 10, 20, 30, 40, 50], 50, "d",
              "legend3", (504, 1524), 10, c_marks, c_brackets)

# row / column condition labels
row_labels = [("Control", 15, 130), ("PDCoV", 584, 137), ("SeNPs", 15, 383), ("SeNPs+PDCoV", 584, 418),
              ("Control", 700, 130), ("PDCoV", 1269, 137), ("SeNPs", 700, 383), ("SeNPsl+PDCoV", 1269, 418),
              ("Control", 15, 1077), ("PDCoV", 580, 1077), ("SeNPs", 15, 1330), ("SeNPs+PDCoV", 572, 1353)]
for txt, px, py in row_labels:
    annots.append(dict(text=txt, xref="paper", yref="paper", x=px / W, y=1 - py / H, textangle=-90,
                       xanchor="center", yanchor="middle",
                       showarrow=False, font=dict(family=SERIF, size=28, color="black")))

for txt, px, py in [("A", 12, 16), ("B", 697, 16), ("C", 16, 947)]:
    annots.append(dict(text=f"<b>{txt}</b>", xref="paper", yref="paper", x=px / W, y=1 - py / H,
                       xanchor="center", yanchor="middle",
                       showarrow=False, font=dict(family=SANS, size=24, color="black")))

layout["shapes"] = shapes
layout["annotations"] = annots
fig.update_layout(**layout)
fig.write_html("out.html")
